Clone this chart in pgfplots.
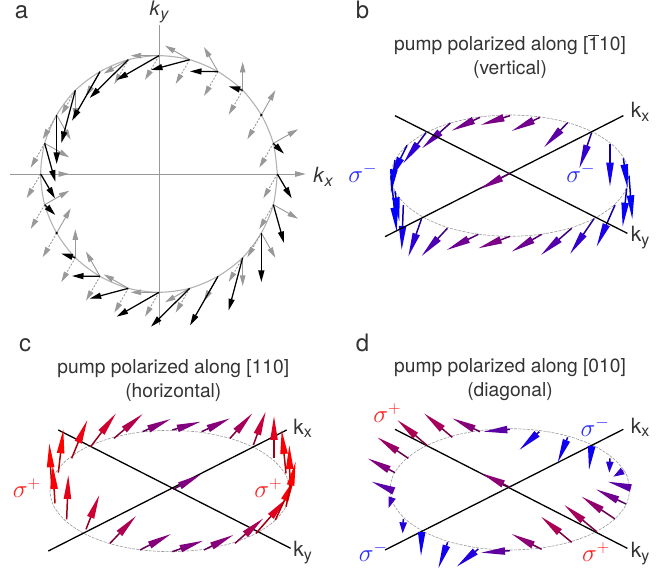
\documentclass[border=0pt]{standalone}
\usepackage{pgfplots}
\usepackage{pgfplotstable}
\usepackage{fontspec}
\setmainfont{TeX Gyre Heros}
\pgfplotsset{compat=1.18}
\usetikzlibrary{arrows.meta}
\definecolor{txt}{HTML}{333333}
\definecolor{sblue}{HTML}{2A2AFF}
\definecolor{sred}{HTML}{FF2020}
\definecolor{agray}{HTML}{999999}
\pgfplotsset{
  panel/.style={hide axis, clip=false, scale only axis, y dir=reverse,
    xmin=0, ymin=0, anchor=south west,
    colormap={bpr}{rgb255=(0,0,255) rgb255=(128,0,128) rgb255=(255,0,0)},
    point meta min=0, point meta max=2},
  ringline/.style={no marks, smooth, draw=gray!80, line width=0.6pt, dash pattern=on 3pt off 1.2pt},
  axline/.style={no marks, black, line width=1.3pt},
  colarrow/.style={no marks, point meta=explicit, quiver={colored=mapped color, u=\thisrow{xe}-\thisrow{x}, v=\thisrow{ye}-\thisrow{y},
      every arrow/.append style={line width=1.5pt, draw=mapped color!72!black,
      -{Triangle[length=#1,width=7.2pt,color=mapped color,fill=mapped color]}}}},
  colarrow/.default=24pt
}
\newcommand{\lab}[1]{\fontsize{24}{24}\selectfont\color{txt}#1}
\newcommand{\ttl}[1]{\fontsize{19.2}{24}\selectfont\color{txt}#1}
\newcommand{\kk}[1]{\fontsize{21}{21}\selectfont\color{txt}k\raisebox{-0.35ex}{\fontsize{16}{16}\selectfont #1}}
\newcommand{\sg}[1]{\fontsize{23}{23}\selectfont$\sigma^{#1}$}
\pgfplotstableread{
x y su sv du dv
832 522 85 0 -42 73
820 430 74 -42 -42 73
784 345 42 -74 -42 73
728 271 0 -85 -42 73
654 215 -42 -74 -42 73
569 179 -74 -42 -42 73
477 167 -85 0 -42 73
385 179 -74 42 -42 73
300 215 -42 74 -42 73
226 271 0 85 -42 73
170 345 42 74 -42 73
134 430 74 42 -42 73
122 522 85 0 -42 73
134 614 74 -42 -42 73
170 699 42 -74 -42 73
226 773 0 -85 -42 73
300 829 -42 -74 -42 73
385 865 -74 -42 -42 73
477 877 -85 0 -42 73
569 865 -74 42 -42 73
654 829 -42 74 -42 73
728 773 0 85 -42 73
784 699 42 74 -42 73
820 614 74 42 -42 73
}\tablea
\pgfplotstableread{
x y u v
832 522 43 73
820 430 32 31
728 271 -42 -12
654 215 -84 -1
569 179 -116 31
477 167 -127 73
385 179 -116 115
300 215 -84 147
226 271 -42 158
170 345 0 147
134 430 32 115
122 522 43 73
134 614 32 31
226 773 -42 -12
300 829 -84 -1
385 865 -116 31
477 877 -127 73
569 865 -116 115
654 829 -84 147
728 773 -42 158
784 699 0 147
820 614 32 115
}\tableab
\pgfplotstableread{
x y xe ye m
867 527 877 658 0
850 475 863 565 0.05
810 432 810 560 0.15
755 398 718 505 0.4
683 368 612 442 0.7
600 352 515 393 0.88
510 347 422 375 0.95
420 352 335 392 0.9
331 369 246 445 0.7
258 398 190 490 0.35
201 436 150 540 0.15
165 480 153 580 0.05
153 527 170 695 0
165 574 178 664 0.03
190 615 185 750 0.15
245 655 205 770 0.35
322 685 245 768 0.6
415 703 320 750 0.85
510 709 415 745 0.95
605 703 515 755 0.85
695 685 603 765 0.65
762 656 690 762 0.4
825 615 770 740 0.2
860 565 848 680 0.05
}\tableb
\pgfplotstableread{
x y xe ye m
870 478 868 345 2
858 430 845 300 1.95
822 385 822 258 1.78
760 345 797 245 1.55
690 325 757 250 1.3
605 305 690 265 1.05
517 300 602 275 1.0
428 305 512 267 1.05
342 325 428 252 1.4
272 350 348 250 1.65
215 385 262 270 1.85
175 428 190 298 2
155 470 148 340 2
165 520 158 405 1.95
200 568 205 435 1.8
258 598 298 495 1.6
330 640 408 558 1.35
420 660 513 612 1.05
517 665 610 632 1.0
612 660 700 615 1.05
705 640 790 565 1.35
768 610 860 505 1.75
826 570 884 445 1.95
858 530 887 395 2
}\tablec
\pgfplotstableread{
x y xe ye m
598 305 538 360 0.2
683 322 653 398 0.1
755 350 747 420 0.1
858 522 768 478 0.9
825 567 725 500 1.15
770 605 673 525 1.3
695 637 603 560 1.35
605 658 515 612 1.1
510 662 423 668 0.75
415 657 350 710 0.25
323 637 295 715 0.15
245 607 243 678 0.1
150 478 95 455 0.7
165 428 83 385 1.0
205 385 112 322 1.2
262 347 172 270 1.35
337 322 252 250 1.3
420 305 337 265 1.05
510 298 430 305 0.7
865 472 803 455 0.7
}\tabled
\pgfplotstableread{
x y xe ye m
810 385 808 428 0.3
850 422 820 440 0.45
190 567 188 610 0.25
150 522 146 534 0.5
}\tabledshort
\begin{document}
\begin{tikzpicture}[x=1pt,y=1pt]
\useasboundingbox (0,0) rectangle (669,569);
% ---------- panel a
\begin{axis}[panel, at={(0pt,239pt)}, width=340pt, height=330pt, xmax=1020, ymax=990]
\addplot[no marks, smooth, draw=black!30, line width=1.1pt] coordinates {
(832,522)(820,430)(784,345)(728,271)(654,215)(569,179)(477,167)(385,179)(300,215)(226,271)(170,345)(134,430)(122,522)(134,614)(170,699)(226,773)(300,829)(385,865)(477,877)(569,865)(654,829)(728,773)(784,699)(820,614)(832,522)};
\addplot[no marks, draw=agray, line width=0.9pt] coordinates {(30,522)(900,522)};
\addplot[no marks, draw=agray, line width=0.9pt] coordinates {(477,75)(477,975)};
\addplot[no marks, quiver={u=\thisrow{su}, v=\thisrow{sv},
   every arrow/.append style={draw=agray, line width=0.9pt, -{Triangle[length=10.5pt,width=5.5pt,color=agray,fill=agray]}}}] table {\tablea};
\addplot[no marks, quiver={u=\thisrow{du}, v=\thisrow{dv},
   every arrow/.append style={draw=agray, line width=0.9pt, dash pattern=on 2pt off 1.5pt, -{Triangle[length=10.5pt,width=5.5pt,color=agray,fill=agray]}}}] table {\tablea};
\addplot[no marks, quiver={u=\thisrow{u}, v=\thisrow{v},
   every arrow/.append style={draw=black, line width=1.25pt, -{Triangle[length=11.5pt,width=6pt]}}}] table {\tableab};
\addplot[only marks, mark=*, mark size=1pt, black] coordinates {(784,345)(170,699)};
\node[anchor=base] at (axis cs:65,57) {\lab{a}};
\node at (axis cs:478,36) {\fontsize{20}{20}\selectfont\color{txt}\textit{k}\raisebox{-0.4ex}{\fontsize{16}{16}\selectfont\textit{y}}};
\node at (axis cs:970,530) {\fontsize{21}{21}\selectfont\color{txt}\textit{k}\raisebox{-0.4ex}{\fontsize{16}{16}\selectfont\textit{x}}};
\end{axis}
% ---------- panel b
\begin{axis}[panel, at={(340pt,289pt)}, width=329pt, height=280pt, xmax=987, ymax=840]
\addplot[ringline] coordinates {
(867,527)(855,480)(819,436)(762,398)(688,369)(602,351)(510,345)(418,351)(331,369)(258,398)(201,436)(165,480)(153,527)(165,574)(201,618)(258,656)(331,685)(418,703)(510,709)(602,703)(688,685)(762,656)(819,618)(855,574)(867,527)};
\addplot[colarrow] table[meta=m] {\tableb};
\addplot[axline] coordinates {(165,347)(862,700)};
\addplot[axline] coordinates {(135,710)(850,347)};
\addplot[colarrow] table[meta=m] {
x y xe ye m
510 520 420 567 0.95
};
\node[anchor=base] at (axis cs:68,57) {\lab{b}};
\node at (axis cs:510,135) {\ttl{pump polarized along [$\overline{\mbox{1}}$10]}};
\node at (axis cs:510,208) {\ttl{(vertical)}};
\node at (axis cs:900,336) {\kk{x}};
\node at (axis cs:900,712) {\kk{y}};
\node[sblue] at (axis cs:68,520) {\sg{-}};
\node[sblue] at (axis cs:722,520) {\sg{-}};
\end{axis}
% ---------- panel c
\begin{axis}[panel, at={(0pt,0pt)}, width=335pt, height=239pt, xmax=1005, ymax=717]
\addplot[ringline] coordinates {
(870,483)(858,436)(822,392)(765,354)(690,325)(603,307)(510,301)(417,307)(330,325)(255,354)(198,392)(162,436)(150,483)(162,530)(198,574)(255,612)(330,641)(417,659)(510,665)(603,659)(690,641)(765,612)(822,574)(858,530)(870,483)};
\addplot[axline] coordinates {(175,300)(872,655)};
\addplot[axline] coordinates {(145,663)(860,300)};
\addplot[colarrow] table[meta=m] {\tablec};
\addplot[colarrow] table[meta=m] {
x y xe ye m
520 478 603 433 1.0
};
\node[anchor=base] at (axis cs:75,65) {\lab{c}};
\node at (axis cs:520,115) {\ttl{pump polarized along [110]}};
\node at (axis cs:520,188) {\ttl{(horizontal)}};
\node at (axis cs:908,295) {\kk{x}};
\node at (axis cs:908,668) {\kk{y}};
\node[sred] at (axis cs:80,475) {\sg{+}};
\node[sred] at (axis cs:805,475) {\sg{+}};
\end{axis}
% ---------- panel d
\begin{axis}[panel, at={(340pt,0pt)}, width=329pt, height=239pt, xmax=987, ymax=717]
\addplot[ringline] coordinates {
(870,478)(858,431)(822,387)(765,349)(690,320)(603,302)(510,296)(417,302)(330,320)(255,349)(198,387)(162,431)(150,478)(162,525)(198,569)(255,607)(330,636)(417,654)(510,660)(603,654)(690,636)(765,607)(822,569)(858,525)(870,478)};
\addplot[axline] coordinates {(165,298)(862,655)};
\addplot[axline] coordinates {(135,660)(850,298)};
\addplot[colarrow] table[meta=m] {\tabled};
\addplot[colarrow=11pt] table[meta=m] {\tabledshort};
\addplot[colarrow] table[meta=m] {
x y xe ye m
510 472 425 430 1.1
};
\node[anchor=base] at (axis cs:68,65) {\lab{d}};
\node at (axis cs:510,112) {\ttl{pump polarized along [010]}};
\node at (axis cs:510,185) {\ttl{(diagonal)}};
\node at (axis cs:900,292) {\kk{x}};
\node at (axis cs:900,672) {\kk{y}};
\node[sred] at (axis cs:142,248) {\sg{+}};
\node[sblue] at (axis cs:765,290) {\sg{-}};
\node[sblue] at (axis cs:100,665) {\sg{-}};
\node[sred] at (axis cs:768,665) {\sg{+}};
\end{axis}
\end{tikzpicture}
\end{document}
